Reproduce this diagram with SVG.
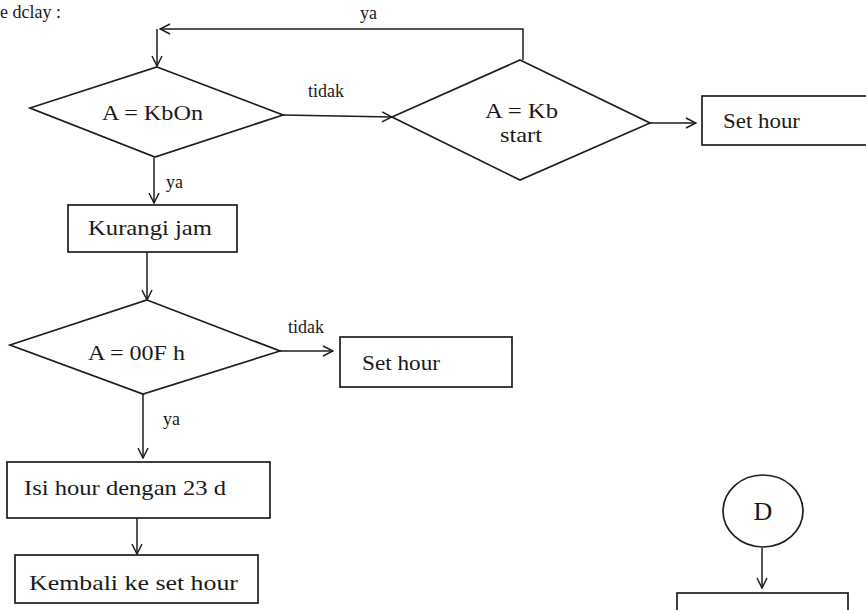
<svg xmlns="http://www.w3.org/2000/svg" width="866" height="610" viewBox="0 0 866 610">
  <style>
    .shape { fill: none; stroke: #1e1e1e; stroke-width: 1.7; }
    .edge { fill: none; stroke: #1e1e1e; stroke-width: 1.5; }
    .lbl { font-family: "Liberation Serif", "Times New Roman", serif; font-size: 22px; fill: #1a1a1a; }
    .small { font-family: "Liberation Serif", "Times New Roman", serif; font-size: 18px; fill: #1a1a1a; }
    .big { font-size: 26px; }
  </style>
  <defs>
    <marker id="arrow" viewBox="0 0 12 12" refX="11" refY="6" markerWidth="12" markerHeight="12" markerUnits="userSpaceOnUse" orient="auto">
      <path d="M1,1 L11,6 L1,11" fill="none" stroke="#1e1e1e" stroke-width="1.5"/>
    </marker>
  </defs>

  <rect width="866" height="610" fill="#ffffff"/>

  <!-- heading -->
  <text class="small" x="0" y="18">e dclay :</text>

  <!-- connectors -->
  <g id="connectors">
    <!-- loop back from second decision -->
    <polyline class="edge" points="523,60 523,29 160,29" marker-end="url(#arrow)"/>
    <line class="edge" x1="157" y1="29" x2="157" y2="66" marker-end="url(#arrow)"/>
    <text class="small" x="360" y="19">ya</text>

    <line class="edge" x1="283" y1="115" x2="392" y2="117" marker-end="url(#arrow)"/>
    <text class="small" x="308" y="97">tidak</text>

    <line class="edge" x1="650" y1="123" x2="696" y2="123" marker-end="url(#arrow)"/>

    <line class="edge" x1="154" y1="158" x2="154" y2="203" marker-end="url(#arrow)"/>
    <text class="small" x="166" y="188">ya</text>

    <line class="edge" x1="147" y1="252" x2="147" y2="300" marker-end="url(#arrow)"/>

    <line class="edge" x1="280" y1="351" x2="333" y2="351" marker-end="url(#arrow)"/>
    <text class="small" x="288" y="333">tidak</text>

    <line class="edge" x1="143" y1="394" x2="143" y2="458" marker-end="url(#arrow)"/>
    <text class="small" x="163" y="425">ya</text>

    <line class="edge" x1="137" y1="518" x2="137" y2="554" marker-end="url(#arrow)"/>

    <line class="edge" x1="762" y1="548" x2="762" y2="588" marker-end="url(#arrow)"/>
  </g>

  <!-- decision A = KbOn -->
  <g id="dec-kbon">
    <polygon class="shape" points="157,67 283,115 155,157 30,108"/>
    <text class="lbl" x="102" y="120" textLength="101" lengthAdjust="spacingAndGlyphs">A = KbOn</text>
  </g>

  <!-- decision A = Kb start -->
  <g id="dec-kbstart">
    <polygon class="shape" points="520,60 650,123 520,180 392,117"/>
    <text class="lbl" x="485" y="118" textLength="73" lengthAdjust="spacingAndGlyphs">A = Kb</text>
    <text class="lbl" x="500" y="142" textLength="42" lengthAdjust="spacingAndGlyphs">start</text>
  </g>

  <!-- process Set hour (right) -->
  <g id="set-hour-1">
    <rect class="shape" x="702" y="96" width="200" height="49"/>
    <text class="lbl" x="723" y="128" textLength="77" lengthAdjust="spacingAndGlyphs">Set hour</text>
  </g>

  <!-- process Kurangi jam -->
  <g id="kurangi-jam">
    <rect class="shape" x="68" y="205" width="169" height="47"/>
    <text class="lbl" x="88" y="235" textLength="124" lengthAdjust="spacingAndGlyphs">Kurangi  jam</text>
  </g>

  <!-- decision A = 00F h -->
  <g id="dec-00fh">
    <polygon class="shape" points="147,300 280,351 143,394 10,345"/>
    <text class="lbl" x="88" y="360" textLength="97" lengthAdjust="spacingAndGlyphs">A = 00F h</text>
  </g>

  <!-- process Set hour (middle) -->
  <g id="set-hour-2">
    <rect class="shape" x="340" y="337" width="172" height="50"/>
    <text class="lbl" x="362" y="370" textLength="78" lengthAdjust="spacingAndGlyphs">Set hour</text>
  </g>

  <!-- process Isi hour dengan 23 d -->
  <g id="isi-hour">
    <rect class="shape" x="7" y="462" width="263" height="56"/>
    <text class="lbl" x="24" y="495" textLength="202" lengthAdjust="spacingAndGlyphs">Isi hour dengan 23 d</text>
  </g>

  <!-- process Kembali ke set hour -->
  <g id="kembali">
    <rect class="shape" x="15" y="555" width="243" height="48"/>
    <text class="lbl" x="29" y="590" textLength="209" lengthAdjust="spacingAndGlyphs">Kembali ke set hour</text>
  </g>

  <!-- connector D -->
  <g id="conn-d">
    <ellipse class="shape" cx="763" cy="511" rx="40" ry="36"/>
    <text class="lbl big" x="763" y="520" text-anchor="middle">D</text>
  </g>

  <!-- process Set hour (bottom, runs off the page) -->
  <g id="set-hour-3">
    <rect class="shape" x="677" y="593" width="171" height="50"/>
    <text class="lbl" x="702" y="624" textLength="77" lengthAdjust="spacingAndGlyphs">Set hour</text>
  </g>
</svg>
